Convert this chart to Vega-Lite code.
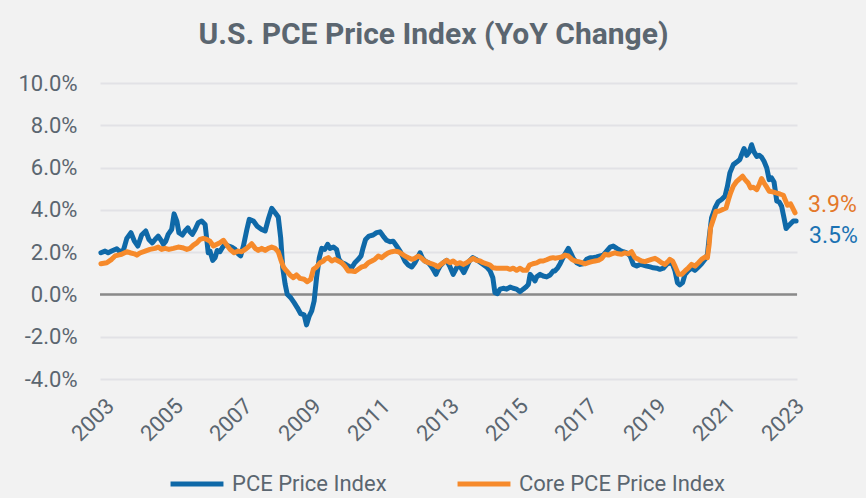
{
  "$schema": "https://vega.github.io/schema/vega-lite/v6.json",
  "width": 697,
  "height": 296,
  "autosize": {"type": "none"},
  "padding": {"left": 100, "top": 83, "right": 69, "bottom": 119},
  "background": "#f2f2f2",
  "config": {"view": {"stroke": null}, "font": "Roboto"},
  "title": {"text": "U.S. PCE Price Index (YoY Change)", "font": "Roboto", "fontSize": 30, "fontWeight": "bold", "color": "#5b6670", "anchor": "middle", "dx": -15, "offset": 22},
  "datasets": {
    "pce": [
      {"year":2002.94,"value":1.97},{"year":2003.06,"value":2.05},{"year":2003.15,"value":1.97},{"year":2003.25,"value":2.05},{"year":2003.40,"value":2.16},{"year":2003.49,"value":2.02},{"year":2003.59,"value":2.08},{"year":2003.69,"value":2.65},{"year":2003.81,"value":2.92},{"year":2003.91,"value":2.52},{"year":2004.01,"value":2.29},{"year":2004.12,"value":2.81},{"year":2004.24,"value":3.00},{"year":2004.33,"value":2.60},{"year":2004.43,"value":2.44},{"year":2004.51,"value":2.60},{"year":2004.60,"value":2.76},{"year":2004.68,"value":2.57},{"year":2004.75,"value":2.37},{"year":2004.82,"value":2.52},{"year":2004.89,"value":2.84},{"year":2004.99,"value":3.07},{"year":2005.06,"value":3.81},{"year":2005.14,"value":3.47},{"year":2005.20,"value":2.92},{"year":2005.30,"value":2.81},{"year":2005.38,"value":3.00},{"year":2005.46,"value":3.15},{"year":2005.52,"value":2.96},{"year":2005.59,"value":2.84},{"year":2005.67,"value":3.07},{"year":2005.76,"value":3.39},{"year":2005.86,"value":3.47},{"year":2005.96,"value":3.31},{"year":2006.05,"value":1.97},{"year":2006.10,"value":2.05},{"year":2006.18,"value":1.61},{"year":2006.25,"value":1.74},{"year":2006.31,"value":2.08},{"year":2006.39,"value":2.02},{"year":2006.47,"value":2.24},{"year":2006.54,"value":2.37},{"year":2006.63,"value":2.29},{"year":2006.73,"value":2.24},{"year":2006.83,"value":2.13},{"year":2006.92,"value":1.92},{"year":2006.99,"value":1.82},{"year":2007.07,"value":2.29},{"year":2007.17,"value":3.07},{"year":2007.24,"value":3.55},{"year":2007.36,"value":3.47},{"year":2007.47,"value":3.23},{"year":2007.60,"value":3.07},{"year":2007.70,"value":3.00},{"year":2007.79,"value":3.55},{"year":2007.89,"value":4.07},{"year":2007.99,"value":3.86},{"year":2008.08,"value":3.66},{"year":2008.15,"value":2.68},{"year":2008.21,"value":1.26},{"year":2008.28,"value":0.48},{"year":2008.34,"value":0.01},{"year":2008.44,"value":-0.15},{"year":2008.54,"value":-0.39},{"year":2008.63,"value":-0.62},{"year":2008.73,"value":-0.91},{"year":2008.83,"value":-0.97},{"year":2008.90,"value":-1.44},{"year":2008.98,"value":-1.01},{"year":2009.05,"value":-0.78},{"year":2009.12,"value":-0.31},{"year":2009.19,"value":0.79},{"year":2009.27,"value":1.74},{"year":2009.34,"value":2.18},{"year":2009.43,"value":2.13},{"year":2009.51,"value":2.37},{"year":2009.58,"value":2.18},{"year":2009.68,"value":2.24},{"year":2009.77,"value":2.13},{"year":2009.84,"value":1.66},{"year":2009.92,"value":1.50},{"year":2010.01,"value":1.45},{"year":2010.11,"value":1.34},{"year":2010.21,"value":1.26},{"year":2010.30,"value":1.50},{"year":2010.40,"value":1.66},{"year":2010.48,"value":1.82},{"year":2010.54,"value":2.21},{"year":2010.61,"value":2.60},{"year":2010.71,"value":2.76},{"year":2010.83,"value":2.81},{"year":2010.93,"value":2.92},{"year":2011.03,"value":2.96},{"year":2011.12,"value":2.76},{"year":2011.22,"value":2.56},{"year":2011.32,"value":2.49},{"year":2011.41,"value":2.52},{"year":2011.51,"value":2.29},{"year":2011.61,"value":2.05},{"year":2011.68,"value":1.82},{"year":2011.75,"value":1.58},{"year":2011.85,"value":1.39},{"year":2011.95,"value":1.30},{"year":2012.04,"value":1.50},{"year":2012.12,"value":1.74},{"year":2012.19,"value":1.97},{"year":2012.26,"value":1.71},{"year":2012.33,"value":1.58},{"year":2012.43,"value":1.50},{"year":2012.51,"value":1.34},{"year":2012.57,"value":1.19},{"year":2012.65,"value":0.95},{"year":2012.72,"value":1.19},{"year":2012.77,"value":1.34},{"year":2012.86,"value":1.50},{"year":2012.96,"value":1.61},{"year":2013.06,"value":1.30},{"year":2013.15,"value":0.95},{"year":2013.25,"value":1.26},{"year":2013.33,"value":1.39},{"year":2013.40,"value":1.19},{"year":2013.46,"value":1.03},{"year":2013.54,"value":1.30},{"year":2013.62,"value":1.58},{"year":2013.72,"value":1.74},{"year":2013.81,"value":1.66},{"year":2013.88,"value":1.58},{"year":2013.95,"value":1.50},{"year":2014.02,"value":1.42},{"year":2014.12,"value":1.30},{"year":2014.22,"value":1.11},{"year":2014.30,"value":0.79},{"year":2014.36,"value":0.08},{"year":2014.43,"value":0.04},{"year":2014.51,"value":0.25},{"year":2014.60,"value":0.29},{"year":2014.70,"value":0.25},{"year":2014.80,"value":0.35},{"year":2014.89,"value":0.29},{"year":2014.99,"value":0.25},{"year":2015.09,"value":0.13},{"year":2015.18,"value":0.25},{"year":2015.26,"value":0.35},{"year":2015.33,"value":0.48},{"year":2015.38,"value":0.95},{"year":2015.46,"value":0.79},{"year":2015.52,"value":0.64},{"year":2015.57,"value":0.83},{"year":2015.67,"value":0.95},{"year":2015.76,"value":0.87},{"year":2015.86,"value":0.83},{"year":2015.96,"value":0.92},{"year":2016.05,"value":1.11},{"year":2016.10,"value":1.11},{"year":2016.18,"value":1.26},{"year":2016.25,"value":1.45},{"year":2016.31,"value":1.66},{"year":2016.39,"value":1.90},{"year":2016.49,"value":2.18},{"year":2016.57,"value":1.92},{"year":2016.63,"value":1.71},{"year":2016.73,"value":1.50},{"year":2016.83,"value":1.42},{"year":2016.92,"value":1.45},{"year":2017.02,"value":1.66},{"year":2017.12,"value":1.74},{"year":2017.21,"value":1.74},{"year":2017.31,"value":1.77},{"year":2017.41,"value":1.82},{"year":2017.50,"value":1.86},{"year":2017.60,"value":2.05},{"year":2017.70,"value":2.24},{"year":2017.79,"value":2.29},{"year":2017.89,"value":2.18},{"year":2017.99,"value":2.08},{"year":2018.08,"value":2.02},{"year":2018.18,"value":1.97},{"year":2018.28,"value":1.82},{"year":2018.37,"value":1.42},{"year":2018.47,"value":1.34},{"year":2018.57,"value":1.42},{"year":2018.66,"value":1.39},{"year":2018.76,"value":1.34},{"year":2018.86,"value":1.30},{"year":2018.95,"value":1.26},{"year":2019.05,"value":1.24},{"year":2019.14,"value":1.19},{"year":2019.24,"value":1.24},{"year":2019.34,"value":1.42},{"year":2019.43,"value":1.50},{"year":2019.51,"value":1.42},{"year":2019.58,"value":1.11},{"year":2019.65,"value":0.56},{"year":2019.72,"value":0.45},{"year":2019.80,"value":0.56},{"year":2019.87,"value":0.95},{"year":2019.97,"value":1.14},{"year":2020.06,"value":1.24},{"year":2020.16,"value":1.14},{"year":2020.26,"value":1.30},{"year":2020.35,"value":1.45},{"year":2020.45,"value":1.66},{"year":2020.52,"value":1.90},{"year":2020.57,"value":2.68},{"year":2020.64,"value":3.62},{"year":2020.74,"value":4.09},{"year":2020.83,"value":4.38},{"year":2020.93,"value":4.49},{"year":2021.03,"value":4.65},{"year":2021.10,"value":5.12},{"year":2021.17,"value":5.75},{"year":2021.27,"value":6.14},{"year":2021.37,"value":6.26},{"year":2021.46,"value":6.38},{"year":2021.51,"value":6.61},{"year":2021.58,"value":6.90},{"year":2021.66,"value":6.58},{"year":2021.73,"value":6.74},{"year":2021.80,"value":7.08},{"year":2021.87,"value":6.74},{"year":2021.95,"value":6.53},{"year":2022.02,"value":6.58},{"year":2022.09,"value":6.49},{"year":2022.16,"value":6.30},{"year":2022.24,"value":5.98},{"year":2022.31,"value":5.43},{"year":2022.38,"value":5.51},{"year":2022.45,"value":5.32},{"year":2022.53,"value":4.41},{"year":2022.60,"value":4.38},{"year":2022.67,"value":4.17},{"year":2022.74,"value":3.62},{"year":2022.80,"value":3.12},{"year":2022.86,"value":3.23},{"year":2022.93,"value":3.34},{"year":2023.01,"value":3.47},{"year":2023.09,"value":3.47}
    ],
    "core": [
      {"year":2002.94,"value":1.45},{"year":2003.11,"value":1.50},{"year":2003.25,"value":1.66},{"year":2003.35,"value":1.82},{"year":2003.44,"value":1.86},{"year":2003.54,"value":1.90},{"year":2003.69,"value":2.02},{"year":2003.81,"value":1.96},{"year":2003.91,"value":1.92},{"year":2003.98,"value":1.86},{"year":2004.07,"value":1.96},{"year":2004.22,"value":2.05},{"year":2004.36,"value":2.13},{"year":2004.51,"value":2.18},{"year":2004.60,"value":2.24},{"year":2004.70,"value":2.13},{"year":2004.80,"value":2.18},{"year":2004.91,"value":2.13},{"year":2005.04,"value":2.18},{"year":2005.18,"value":2.24},{"year":2005.30,"value":2.21},{"year":2005.43,"value":2.13},{"year":2005.52,"value":2.18},{"year":2005.62,"value":2.33},{"year":2005.72,"value":2.44},{"year":2005.81,"value":2.60},{"year":2005.91,"value":2.65},{"year":2006.01,"value":2.60},{"year":2006.10,"value":2.52},{"year":2006.20,"value":2.29},{"year":2006.30,"value":2.37},{"year":2006.39,"value":2.44},{"year":2006.49,"value":2.56},{"year":2006.59,"value":2.33},{"year":2006.68,"value":2.13},{"year":2006.80,"value":1.97},{"year":2006.92,"value":2.05},{"year":2007.02,"value":2.02},{"year":2007.12,"value":2.13},{"year":2007.21,"value":2.24},{"year":2007.31,"value":2.40},{"year":2007.41,"value":2.18},{"year":2007.50,"value":2.08},{"year":2007.60,"value":2.18},{"year":2007.70,"value":2.08},{"year":2007.79,"value":2.18},{"year":2007.89,"value":2.24},{"year":2007.99,"value":2.18},{"year":2008.08,"value":2.02},{"year":2008.15,"value":1.66},{"year":2008.23,"value":1.30},{"year":2008.32,"value":1.11},{"year":2008.42,"value":0.92},{"year":2008.52,"value":0.79},{"year":2008.61,"value":0.92},{"year":2008.71,"value":0.76},{"year":2008.83,"value":0.72},{"year":2008.92,"value":0.60},{"year":2009.02,"value":0.72},{"year":2009.10,"value":1.19},{"year":2009.19,"value":1.30},{"year":2009.29,"value":1.50},{"year":2009.39,"value":1.58},{"year":2009.43,"value":1.66},{"year":2009.53,"value":1.74},{"year":2009.63,"value":1.58},{"year":2009.72,"value":1.66},{"year":2009.82,"value":1.58},{"year":2009.92,"value":1.50},{"year":2010.01,"value":1.34},{"year":2010.11,"value":1.11},{"year":2010.21,"value":1.11},{"year":2010.30,"value":1.08},{"year":2010.40,"value":1.19},{"year":2010.50,"value":1.30},{"year":2010.59,"value":1.34},{"year":2010.69,"value":1.50},{"year":2010.79,"value":1.58},{"year":2010.88,"value":1.66},{"year":2010.98,"value":1.82},{"year":2011.08,"value":1.74},{"year":2011.17,"value":1.86},{"year":2011.27,"value":1.97},{"year":2011.37,"value":2.02},{"year":2011.46,"value":2.05},{"year":2011.56,"value":2.02},{"year":2011.66,"value":1.92},{"year":2011.75,"value":1.82},{"year":2011.85,"value":1.74},{"year":2011.95,"value":1.66},{"year":2012.04,"value":1.71},{"year":2012.14,"value":1.82},{"year":2012.24,"value":1.71},{"year":2012.33,"value":1.58},{"year":2012.43,"value":1.50},{"year":2012.53,"value":1.45},{"year":2012.62,"value":1.39},{"year":2012.72,"value":1.30},{"year":2012.77,"value":1.39},{"year":2012.86,"value":1.50},{"year":2012.96,"value":1.61},{"year":2013.06,"value":1.50},{"year":2013.15,"value":1.58},{"year":2013.25,"value":1.45},{"year":2013.35,"value":1.50},{"year":2013.44,"value":1.42},{"year":2013.54,"value":1.50},{"year":2013.64,"value":1.61},{"year":2013.73,"value":1.71},{"year":2013.83,"value":1.61},{"year":2013.93,"value":1.58},{"year":2014.02,"value":1.50},{"year":2014.12,"value":1.45},{"year":2014.22,"value":1.39},{"year":2014.31,"value":1.26},{"year":2014.41,"value":1.24},{"year":2014.51,"value":1.24},{"year":2014.60,"value":1.24},{"year":2014.70,"value":1.24},{"year":2014.80,"value":1.19},{"year":2014.89,"value":1.24},{"year":2014.99,"value":1.14},{"year":2015.09,"value":1.24},{"year":2015.18,"value":1.14},{"year":2015.28,"value":1.14},{"year":2015.36,"value":1.39},{"year":2015.46,"value":1.45},{"year":2015.57,"value":1.49},{"year":2015.67,"value":1.58},{"year":2015.76,"value":1.58},{"year":2015.86,"value":1.64},{"year":2015.96,"value":1.71},{"year":2016.05,"value":1.74},{"year":2016.10,"value":1.71},{"year":2016.20,"value":1.74},{"year":2016.30,"value":1.77},{"year":2016.39,"value":1.86},{"year":2016.49,"value":1.82},{"year":2016.59,"value":1.66},{"year":2016.68,"value":1.58},{"year":2016.78,"value":1.55},{"year":2016.88,"value":1.50},{"year":2016.97,"value":1.45},{"year":2017.07,"value":1.50},{"year":2017.17,"value":1.55},{"year":2017.26,"value":1.58},{"year":2017.36,"value":1.61},{"year":2017.46,"value":1.71},{"year":2017.55,"value":1.90},{"year":2017.65,"value":1.86},{"year":2017.74,"value":1.92},{"year":2017.84,"value":1.97},{"year":2017.94,"value":1.92},{"year":2018.03,"value":1.90},{"year":2018.13,"value":1.97},{"year":2018.23,"value":1.92},{"year":2018.32,"value":2.02},{"year":2018.42,"value":1.74},{"year":2018.52,"value":1.66},{"year":2018.61,"value":1.58},{"year":2018.71,"value":1.55},{"year":2018.81,"value":1.61},{"year":2018.90,"value":1.66},{"year":2019.00,"value":1.71},{"year":2019.10,"value":1.61},{"year":2019.19,"value":1.50},{"year":2019.29,"value":1.42},{"year":2019.39,"value":1.58},{"year":2019.43,"value":1.66},{"year":2019.51,"value":1.58},{"year":2019.58,"value":1.34},{"year":2019.68,"value":0.95},{"year":2019.77,"value":0.95},{"year":2019.87,"value":1.11},{"year":2019.97,"value":1.26},{"year":2020.06,"value":1.42},{"year":2020.16,"value":1.34},{"year":2020.26,"value":1.50},{"year":2020.35,"value":1.66},{"year":2020.45,"value":1.77},{"year":2020.52,"value":1.74},{"year":2020.57,"value":2.37},{"year":2020.61,"value":3.15},{"year":2020.69,"value":3.55},{"year":2020.77,"value":3.94},{"year":2020.86,"value":3.94},{"year":2020.96,"value":4.02},{"year":2021.06,"value":4.09},{"year":2021.13,"value":4.49},{"year":2021.19,"value":4.80},{"year":2021.27,"value":5.12},{"year":2021.37,"value":5.35},{"year":2021.46,"value":5.48},{"year":2021.54,"value":5.59},{"year":2021.61,"value":5.43},{"year":2021.70,"value":5.27},{"year":2021.77,"value":5.04},{"year":2021.85,"value":5.07},{"year":2021.95,"value":4.96},{"year":2022.02,"value":5.20},{"year":2022.09,"value":5.48},{"year":2022.16,"value":5.27},{"year":2022.24,"value":5.07},{"year":2022.31,"value":4.88},{"year":2022.41,"value":4.85},{"year":2022.51,"value":4.80},{"year":2022.62,"value":4.75},{"year":2022.72,"value":4.69},{"year":2022.77,"value":4.49},{"year":2022.84,"value":4.22},{"year":2022.93,"value":4.28},{"year":2022.99,"value":4.09},{"year":2023.06,"value":3.86}
    ]
  },
  "layer": [
    {
      "data": {"values": [{}]},
      "mark": {"type": "rule", "color": "#8a8a8a", "strokeWidth": 2.5},
      "encoding": {"y": {"datum": 0, "type": "quantitative", "scale": {"domain": [-4, 10], "nice": false}}}
    },
    {
      "data": {"name": "pce"},
      "mark": {"type": "line", "strokeWidth": 5, "strokeJoin": "round", "strokeCap": "round"},
      "encoding": {
        "x": {"field": "year", "type": "quantitative", "scale": {"domain": [2002.913, 2023.116], "nice": false, "zero": false},
          "axis": {"title": null, "values": [2003, 2005, 2007, 2009, 2011, 2013, 2015, 2017, 2019, 2021, 2023], "format": "d", "labelAngle": -45, "grid": false, "domain": false, "ticks": false, "labelFont": "Roboto", "labelFontSize": 22, "labelColor": "#5b6670", "labelPadding": 16}},
        "y": {"field": "value", "type": "quantitative", "scale": {"domain": [-4, 10], "nice": false},
          "axis": {"title": null, "values": [-4, -2, 0, 2, 4, 6, 8, 10], "labelExpr": "(datum.value < 0 ? '-' : '') + format(abs(datum.value), '.1f') + '%'", "grid": true, "gridColor": "#e2e2e6", "gridWidth": 2, "domain": false, "ticks": false, "labelFont": "Roboto", "labelFontSize": 22, "labelColor": "#5b6670", "labelPadding": 23}},
        "color": {"datum": "PCE Price Index", "type": "nominal",
          "scale": {"domain": ["PCE Price Index", "Core PCE Price Index"], "range": ["#0f69a8", "#f68a2b"]},
          "legend": {"title": null, "orient": "none", "legendX": 68, "legendY": 372, "direction": "horizontal", "symbolType": "stroke", "symbolSize": 2800, "symbolStrokeWidth": 5, "labelFont": "Roboto", "labelFontSize": 22, "labelColor": "#5b6670", "labelOffset": 6, "labelLimit": 400, "columnPadding": 60}}
      }
    },
    {
      "data": {"name": "core"},
      "mark": {"type": "line", "strokeWidth": 5, "strokeJoin": "round", "strokeCap": "round"},
      "encoding": {
        "x": {"field": "year", "type": "quantitative"},
        "y": {"field": "value", "type": "quantitative"},
        "color": {"datum": "Core PCE Price Index", "type": "nominal"}
      }
    },
    {
      "data": {"values": [{"year": 2023.06, "value": 3.86, "label": "3.9%"}]},
      "mark": {"type": "text", "align": "left", "baseline": "middle", "dx": 13, "dy": -8, "font": "Roboto", "fontSize": 23, "color": "#e4782a"},
      "encoding": {"x": {"field": "year", "type": "quantitative"}, "y": {"field": "value", "type": "quantitative"}, "text": {"field": "label"}}
    },
    {
      "data": {"values": [{"year": 2023.09, "value": 3.47, "label": "3.5%"}]},
      "mark": {"type": "text", "align": "left", "baseline": "middle", "dx": 13, "dy": 15, "font": "Roboto", "fontSize": 23, "color": "#1b72b3"},
      "encoding": {"x": {"field": "year", "type": "quantitative"}, "y": {"field": "value", "type": "quantitative"}, "text": {"field": "label"}}
    }
  ]
}
